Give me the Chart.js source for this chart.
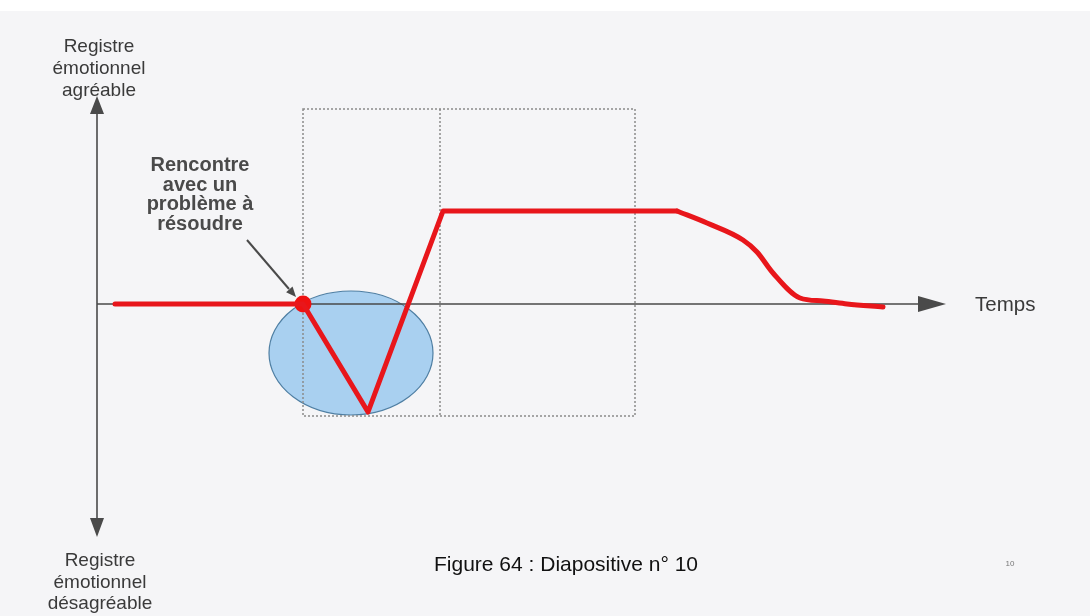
<!DOCTYPE html>
<html>
<head>
<meta charset="utf-8">
<script src="https://cdn.jsdelivr.net/npm/chart.js@4"></script>
<style>
  html, body { margin: 0; padding: 0; background: #ffffff; }
  #wrap { width: 1090px; height: 616px; }
</style>
</head>
<body>
<div id="wrap"><canvas id="courbe" width="1090" height="616"></canvas></div>
<script>
// time (x) and emotional register (y), arbitrary units, origin where axes cross
const timeSharp = [1.8, 20.6, 27.1, 34.6, 58];
const emotionSharp = [0, 0, -10.8, 9.3, 9.3];

const timeDecline = [58, 61, 64.6, 66, 67.6, 70.3, 72.6, 75, 78.6];
const emotionDecline = [9.3, 8.1, 6.4, 5.2, 3.1, 0.6, 0.3, 0, -0.3];

const problemTime = [20.6];
const problemEmotion = [0];

// phase boxes (time bounds) and emotional range of the boxes
const phaseBounds = [20.6, 34.3, 53.8];
const phaseRange = [-11.2, 19.5];

const axisLabelTop = ["Registre", "émotionnel", "agréable"];
const axisLabelBottom = ["Registre", "émotionnel", "désagréable"];
const noteLines = ["Rencontre", "avec un", "problème à", "résoudre"];

const toPoints = (xs, ys) => xs.map((x, i) => ({ x, y: ys[i] }));

/* Decorations: background, phase boxes, ellipse, axes, labels */
const decor = {
  id: "decor",
  beforeDraw(c) {
    const ctx = c.ctx;
    ctx.save();
    ctx.fillStyle = "#ffffff";
    ctx.fillRect(0, 0, c.width, c.height);
    ctx.fillStyle = "#f5f5f7";
    ctx.fillRect(0, 11, c.width, c.height - 11);
    ctx.restore();
  },
  beforeDatasetsDraw(c) {
    const ctx = c.ctx, X = c.scales.x, Y = c.scales.y;
    const px = v => X.getPixelForValue(v), py = v => Y.getPixelForValue(v);
    ctx.save();

    // ellipse around the problem
    ctx.beginPath();
    ctx.ellipse(px(25.4), py(-4.9), 82, 62, 0, 0, Math.PI * 2);
    ctx.fillStyle = "#a9d0f0";
    ctx.fill();
    ctx.lineWidth = 1.2;
    ctx.strokeStyle = "#4f7fa3";
    ctx.stroke();

    // dotted phase boxes
    ctx.setLineDash([2, 2]);
    ctx.lineWidth = 1.5;
    ctx.strokeStyle = "#8a8a8a";
    const top = py(phaseRange[1]), bot = py(phaseRange[0]);
    ctx.strokeRect(px(phaseBounds[0]), top, px(phaseBounds[2]) - px(phaseBounds[0]), bot - top);
    ctx.beginPath();
    ctx.moveTo(px(phaseBounds[1]), top);
    ctx.lineTo(px(phaseBounds[1]), bot);
    ctx.stroke();
    ctx.setLineDash([]);

    // axes
    const ox = px(0), oy = py(0);
    ctx.strokeStyle = "#4a4a4a";
    ctx.fillStyle = "#4a4a4a";
    ctx.lineWidth = 1.6;
    ctx.beginPath();
    ctx.moveTo(ox, oy);
    ctx.lineTo(920, oy);
    ctx.moveTo(ox, 112);
    ctx.lineTo(ox, 520);
    ctx.stroke();
    // arrow heads
    ctx.beginPath();
    ctx.moveTo(946, oy); ctx.lineTo(918, oy - 8); ctx.lineTo(918, oy + 8); ctx.closePath();
    ctx.moveTo(ox, 96); ctx.lineTo(ox - 7, 114); ctx.lineTo(ox + 7, 114); ctx.closePath();
    ctx.moveTo(ox, 537); ctx.lineTo(ox - 7, 518); ctx.lineTo(ox + 7, 518); ctx.closePath();
    ctx.fill();

    // texts
    ctx.textAlign = "center";
    ctx.textBaseline = "alphabetic";
    ctx.fillStyle = "#3a3a3a";
    ctx.font = "19px 'Liberation Sans', Arial, sans-serif";
    axisLabelTop.forEach((t, i) => ctx.fillText(t, 99, 52 + i * 22));
    axisLabelBottom.forEach((t, i) => ctx.fillText(t, 100, 566 + i * 21.5));
    ctx.textAlign = "left";
    ctx.font = "20.5px 'Liberation Sans', Arial, sans-serif";
    ctx.fillText("Temps", 975, 311);

    ctx.textAlign = "center";
    ctx.fillStyle = "#4a4a4a";
    ctx.font = "bold 20px 'Liberation Sans', Arial, sans-serif";
    noteLines.forEach((t, i) => ctx.fillText(t, 200, 171 + i * 19.5));

    // annotation arrow
    ctx.strokeStyle = "#4a4a4a";
    ctx.fillStyle = "#4a4a4a";
    ctx.lineWidth = 2;
    ctx.beginPath();
    ctx.moveTo(247, 240);
    ctx.lineTo(289, 289);
    ctx.stroke();
    const a = Math.atan2(296 - 240, 296 - 247);
    ctx.beginPath();
    ctx.moveTo(296, 297);
    ctx.lineTo(296 - 11 * Math.cos(a - 0.4), 297 - 11 * Math.sin(a - 0.4));
    ctx.lineTo(296 - 11 * Math.cos(a + 0.4), 297 - 11 * Math.sin(a + 0.4));
    ctx.closePath();
    ctx.fill();

    // caption
    ctx.textAlign = "left";
    ctx.fillStyle = "#111111";
    ctx.font = "21px 'Liberation Sans', Arial, sans-serif";
    ctx.fillText("Figure 64 : Diapositive n° 10", 434, 571);
    ctx.textAlign = "center";
    ctx.fillStyle = "#777777";
    ctx.font = "8px 'Liberation Sans', Arial, sans-serif";
    ctx.fillText("10", 1010, 566);

    ctx.restore();
  }
};

const chart = new Chart(document.getElementById("courbe"), {
  type: "line",
  data: {
    datasets: [
      {
        data: toPoints(timeSharp, emotionSharp),
        borderColor: "#e8161b",
        borderWidth: 5,
        tension: 0,
        pointRadius: 0,
        borderJoinStyle: "round",
        borderCapStyle: "round"
      },
      {
        data: toPoints(timeDecline, emotionDecline),
        borderColor: "#e8161b",
        borderWidth: 5,
        cubicInterpolationMode: "monotone",
        pointRadius: 0,
        borderCapStyle: "round"
      },
      {
        data: toPoints(problemTime, problemEmotion),
        showLine: false,
        pointRadius: 8.5,
        pointBorderWidth: 0,
        pointBackgroundColor: "#ee1111",
        pointBorderColor: "#ee1111"
      }
    ]
  },
  options: {
    responsive: false,
    devicePixelRatio: 1,
    animation: false,
    layout: { padding: 0, autoPadding: false },
    plugins: { legend: { display: false }, tooltip: { enabled: false } },
    scales: {
      x: { type: "linear", display: false, min: -9.7, max: 99.3 },
      y: { type: "linear", display: false, min: -31.2, max: 30.4 }
    }
  },
  plugins: [decor]
});
</script>
</body>
</html>
